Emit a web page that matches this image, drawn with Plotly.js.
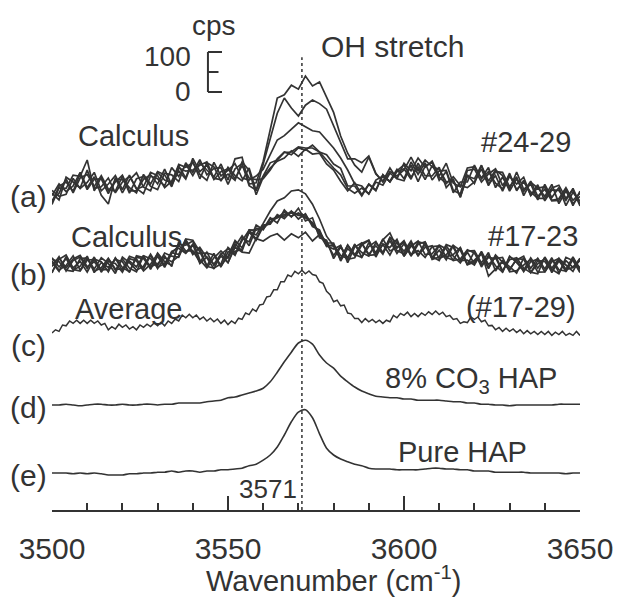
<!DOCTYPE html>
<html><head><meta charset="utf-8">
<script src="https://cdn.plot.ly/plotly-3.0.1.min.js"></script>
<style>html,body{margin:0;padding:0;background:#fff}#chart{width:617px;height:597px}</style>
</head><body><div id="chart"></div>
<script>
// Wavenumber sampling (cm^-1)
const wn2 = [3500,3502,3504,3506,3508,3510,3512,3514,3516,3518,3520,3522,3524,3526,3528,3530,3532,3534,3536,3538,
3540,3542,3544,3546,3548,3550,3552,3554,3556,3558,3560,3562,3564,3566,3568,3570,3572,3574,3576,3578,
3580,3582,3584,3586,3588,3590,3592,3594,3596,3598,3600,3602,3604,3606,3608,3610,3612,3614,3616,3618,
3620,3622,3624,3626,3628,3630,3632,3634,3636,3638,3640,3642,3644,3646,3648,3650];
const wn1 = [3500,3501,3502,3503,3504,3505,3506,3507,3508,3509,3510,3511,3512,3513,3514,3515,3516,3517,3518,3519,
3520,3521,3522,3523,3524,3525,3526,3527,3528,3529,3530,3531,3532,3533,3534,3535,3536,3537,3538,3539,
3540,3541,3542,3543,3544,3545,3546,3547,3548,3549,3550,3551,3552,3553,3554,3555,3556,3557,3558,3559,
3560,3561,3562,3563,3564,3565,3566,3567,3568,3569,3570,3571,3572,3573,3574,3575,3576,3577,3578,3579,
3580,3581,3582,3583,3584,3585,3586,3587,3588,3589,3590,3591,3592,3593,3594,3595,3596,3597,3598,3599,
3600,3601,3602,3603,3604,3605,3606,3607,3608,3609,3610,3611,3612,3613,3614,3615,3616,3617,3618,3619,
3620,3621,3622,3623,3624,3625,3626,3627,3628,3629,3630,3631,3632,3633,3634,3635,3636,3637,3638,3639,
3640,3641,3642,3643,3644,3645,3646,3647,3648,3649,3650];

// (a) Calculus #24-29 (cps above trace baseline)
const calcA1 = [12,-5,52,40,25,70,24,28,50,13, 40,54,24,11,55,48,30,76,54,84, 56,88,70,53,85,45,98,102,35,38,
 92,172,250,258,282,272,305,280,290,252,214,155,112, 82,65,102,60,42,75,48, 87,68,100,77,92,55,87,37,28,75,
 78,50,76,26,52,22,65,22,35,-5, 34,1,26,-19,14,-8];
const calcA2 = [-16,25,24,57,54,95,18,52,18,40, 57,18,18,47,58,35,72,33,68,47, 92,48,88,78,42,77,56,43,75,18,
 85,150,212,250,225,205,232,245,236,222,180,142,98, 98,88,105,62,40,66,55, 70,102,68,95,78,72,40,45,2,55,
 48,82,34,56,17,54,35,52,6,26, 4,34,-14,18,-14,4];
const calcA3 = [6,35,16,30,64,26,53,7,-15,51, 13,45,63,27,18,64,45,38,84,77, 88,59,44,89,55,69,86,50,45,55,
 72,108,145,156,172,188,178,168,165,145,125,100,70, 35,30,10,45,55,42,72, 48,90,59,88,45,68,69,19,10,69,
 72,40,60,73,31,57,21,40,15,-1, -1,25,32,-1,21,-20];
const calcA4 = [-6,12,48,13,50,59,29,56,22,17, 54,12,48,54,29,21,62,58,41,88, 64,96,58,74,76,34,73,86,31,20,
 55,88,95,114,115,128,125,125,115,108,85,74,30, 30,5,35,20,58,40,68, 83,52,78,46,81,52,36,53,31,26,
 40,73,31,66,64,28,53,6,39,25, 28,-6,-2,26,-6,12];
const calcA5 = [19,4,9,49,24,39,64,18,35,56, 21,57,22,29,64,56,26,42,80,50, 99,66,82,46,66,73,48,81,50,46,
 48,70,98,115,108,125,120,132,115,95,75,58,24, 12,25,10,40,32,62,48, 43,82,41,80,89,44,66,13,40,40,
 82,48,66,37,23,62,18,44,7,33, -7,20,19,-6,24,-15];
const calcA6 = [-10,29,40,17,61,21,47,48,11,46, 46,26,13,59,35,66,58,28,75,67, 70,82,90,49,46,60,44,90,69,8,
 52,75,92,100,118,104,122,110,112,85,70,42,18, 38,8,34,18,58,40,66, 73,47,87,56,55,77,26,46,2,58,
 36,81,42,70,56,17,48,16,42,4, 22,-7,-6,23,-19,17];

// (b) Calculus #17-23
const calcB1 = [-18,14,25,-7,9,-18,15,8,-17,18, -6,-17,19,16,-7,30,8,-1,52,50, 60,13,-7,18,35,17,53,35,84,75,
 104,135,160,168,185,188,178,152,115,72,48, 16,49,24,54,62,28,63,80,42, 57,22,52,58,21,11,48,22,5,32,
 3,34,1,19,-18,22,6,-13,18,-8, 18,-19,10,-11,20,-11];
const calcB2 = [10,-13,-1,23,-13,16,-10,18,4,-21, 20,6,-13,-3,27,-2,30,22,19,60, 26,44,18,-10,27,41,24,66,58,100,
 88,118,105,138,120,142,110,118,68,62, 16,45,18,50,31,22,56,31,69,56, 34,60,24,44,48,16,25,50,9,35,
 36,5,31,-15,11,-5,-20,18,-8,17, -10,18,-20,11,-6,16];
const calcB3 = [-4,21,-15,11,20,-9,20,-18,9,4, -18,16,10,-15,2,28,-2,34,42,29, 49,40,-2,29,-3,22,61,43,82,62,
 96,106,122,122,134,124,126,100,84,50, 47,14,50,26,19,56,30,65,35,44, 61,26,36,19,46,48,20,26,44,2,
 12,29,-7,23,-14,13,18,-8,-19,11, 9,-15,14,-17,14,-7];
const calcB4 = [18,-5,16,-13,-3,22,-19,6,-6,14, 8,-18,23,19,-4,3,23,-4,58,35, 36,7,32,-1,22,6,46,73,48,92,
 90,115,118,132,122,130,120,105,80,56, 24,48,14,18,50,61,20,53,44,64, 22,47,60,26,28,50,40,11,15,38,
 30,-1,19,16,19,-17,-14,-1,14,-18, -17,8,16,0,-16,17];
const calcB5 = [-20,18,-7,15,24,-4,8,-14,15,-13, 15,-8,-17,23,16,-6,4,31,26,65, 62,33,-3,-8,3,44,28,61,87,65,
 100,102,126,116,135,115,128,96,88,46, 51,24,16,52,20,46,59,29,61,29, 53,24,58,53,14,20,51,44,11,12,
 0,31,-28,-11,8,-10,13,22,-19,3, 16,-11,-22,19,11,-19];
const calcB6 = [14,8,-13,-16,16,18,-16,-7,17,-10, -11,22,15,-10,24,-9,18,8,22,64, 32,29,30,25,-5,33,34,39,88,87,
 92,108,118,126,130,125,118,106,76,55, 55,10,41,24,54,27,48,27,68,36, 28,56,22,57,16,37,13,49,37,0,
 34,-5,24,-2,-18,20,12,-17,8,15, -18,15,-12,-15,18,-17];
const calcB7 = [6,-16,21,-11,-15,12,14,-12,-11,17, -15,10,-5,24,-11,22,-6,29,49,31, 52,4,20,2,28,6,45,32,30,66,
 60,72,78,62,78,68,82,60,76,48,40, 49,6,45,55,24,26,51,25,58, 22,50,25,51,16,49,19,12,43,1,
 7,30,-9,25,7,-13,16,14,-18,-22, 20,-8,17,-12,-6,11];

// (c) Average #17-29
const average = [0,8,4,20,18,30,24,32,24,32, 24,32,24,30,20,24,8,16,10,22, 14,20,10,16,8,20,14,22,16,25,
 18,27,18,30,24,35,30,45,38,47, 38,45,34,40,30,37,28,35,24,32, 21,30,24,37,34,50,46,60,54,70,
 72,90,92,108,108,128,128,145,141,154, 148,157,148,155,146,144,128,124,104,96, 78,82,68,70,50,48,36,36,26,36,
 28,34,26,32,24,32,28,44,38,49, 44,52,41,49,41,50,44,53,46,55, 46,52,41,44,34,36,24,28,26,40,
 34,40,28,32,18,19,8,14,4,12, 4,10,1,8,-2,6,-2,4,-4,4, -4,4,-6,2,-4,4,-6,-1,-6,4, -6];

// (d) 8% CO3 HAP
const co3Hap = [0,0,2,0,-2,0,2,2,0,0, 2,0,0,2,2,0,2,2,5,5, 5,5,8,10,12,18,20,25,30,35,
 42,58,82,108,132,155,162,152,125,105, 92,72,58,45,35,28,22,20,18,18, 15,15,12,12,12,12,10,8,8,5,
 5,2,2,0,0,-2,0,0,0,0, 0,0,2,2,2,2];

// (e) Pure HAP
const pureHap = [0,0,0,-2,0,-2,0,-2,-5,-5, -5,-2,-2,0,0,2,2,5,2,5, 5,2,5,5,8,8,10,12,18,22,
 32,45,65,95,128,152,158,138,98,62, 45,35,28,22,18,12,10,10,10,8, 8,8,8,10,12,12,10,10,8,8,
 5,5,5,2,2,2,2,2,0,0, 0,0,0,-2,0,0];

// vertical stacking offsets (cps)
const offsetA = 780, offsetB = 612.5, offsetC = 442.5, offsetD = 262.5, offsetE = 92.5;
const scaleBarBase = 1045, scaleBarCps = 100;
const peakWavenumber = 3571;
const majorTicks = [3500, 3550, 3600, 3650];

const INK = '#333333';
const FONT = 'Liberation Sans, Arial, Helvetica, sans-serif';

function tr(x, vals, off, width, smooth) {
  return {
    x: x, y: vals.map(v => v + off), type: 'scatter', mode: 'lines',
    line: {color: INK, width: width, shape: smooth ? 'spline' : 'linear', smoothing: 0.8},
    hoverinfo: 'skip', showlegend: false
  };
}

const traces = [];
[calcA1, calcA2, calcA3, calcA4, calcA5, calcA6].forEach(s => traces.push(tr(wn2, s, offsetA, 1.7)));
[calcB1, calcB2, calcB3, calcB4, calcB5, calcB6, calcB7].forEach(s => traces.push(tr(wn2, s, offsetB, 1.7)));
traces.push(tr(wn1, average, offsetC, 1.5));
traces.push(tr(wn2, co3Hap, offsetD, 1.6, true));
traces.push(tr(wn2, pureHap, offsetE, 1.6, true));
// dotted marker at the OH stretch peak
traces.push({x: [peakWavenumber, peakWavenumber], y: [0, 1132], type: 'scatter', mode: 'lines',
  line: {color: INK, width: 1.5, dash: 'dot'}, hoverinfo: 'skip', showlegend: false});

// pixel helpers for text placement (plot area 52..580 x 0..510)
const PX = x => (x - 52) / 528;
const PY = y => (510 - y) / 510;
function ann(text, x, y, size, xanchor) {
  return {text: text, xref: 'paper', yref: 'paper', x: PX(x), y: PY(y), showarrow: false,
    xanchor: xanchor || 'center', yanchor: 'middle', font: {family: FONT, size: size, color: INK}};
}

const sbx = 3544.3;
const shapes = [
  {type: 'line', xref: 'x', yref: 'y', x0: sbx, x1: sbx, y0: scaleBarBase, y1: scaleBarBase + scaleBarCps, line: {color: INK, width: 2}},
  {type: 'line', xref: 'x', yref: 'y', x0: sbx, x1: sbx + 4, y0: scaleBarBase + scaleBarCps, y1: scaleBarBase + scaleBarCps, line: {color: INK, width: 2}},
  {type: 'line', xref: 'x', yref: 'y', x0: sbx, x1: sbx + 3, y0: scaleBarBase + scaleBarCps / 2, y1: scaleBarBase + scaleBarCps / 2, line: {color: INK, width: 2}},
  {type: 'line', xref: 'x', yref: 'y', x0: sbx, x1: sbx + 4, y0: scaleBarBase, y1: scaleBarBase, line: {color: INK, width: 2}}
];

const annotations = [
  ann('cps', 214, 25, 28),
  ann('100', 193, 56, 28, 'right'),
  ann('0', 193, 91, 28, 'right'),
  ann('OH stretch', 392, 46, 30),
  ann('Calculus', 133, 136, 29),
  ann('#24-29', 573, 142, 29, 'right'),
  ann('(a)', 28, 197, 30),
  ann('Calculus', 126, 237, 29),
  ann('#17-23', 580, 236, 29, 'right'),
  ann('(b)', 28, 274, 30),
  ann('Average', 129, 309, 29),
  ann('(#17-29)', 578, 307, 29, 'right'),
  ann('(c)', 28, 345, 30),
  ann('8% CO<sub>3</sub> HAP', 471, 380, 29),
  ann('(d)', 28, 407, 30),
  ann('Pure HAP', 462, 452, 29),
  ann('(e)', 28, 475, 30),
  ann('3571', 268, 489, 26),
  ann('Wavenumber (cm<sup>-1</sup>)', 333, 579, 29)
];

const layout = {
  width: 617, height: 597,
  margin: {l: 52, r: 37, t: 0, b: 87, pad: 0},
  paper_bgcolor: '#ffffff', plot_bgcolor: '#ffffff',
  showlegend: false,
  font: {family: FONT, color: INK},
  xaxis: {
    range: [3500, 3650], showgrid: false, zeroline: false,
    showline: true, linecolor: INK, linewidth: 2,
    ticks: 'inside', ticklen: 14, tickwidth: 2, tickcolor: INK,
    tickvals: majorTicks, ticktext: majorTicks.map(String),
    tickfont: {family: FONT, size: 30, color: INK},
    ticklabelstandoff: 11,
    minor: {dtick: 10, tick0: 3500, ticks: 'inside', ticklen: 7, tickwidth: 2, tickcolor: INK, showgrid: false}
  },
  yaxis: {range: [0, 1275], visible: false, showgrid: false, zeroline: false},
  shapes: shapes,
  annotations: annotations
};

Plotly.newPlot('chart', traces, layout, {staticPlot: true, displayModeBar: false});
</script>
</body></html>
